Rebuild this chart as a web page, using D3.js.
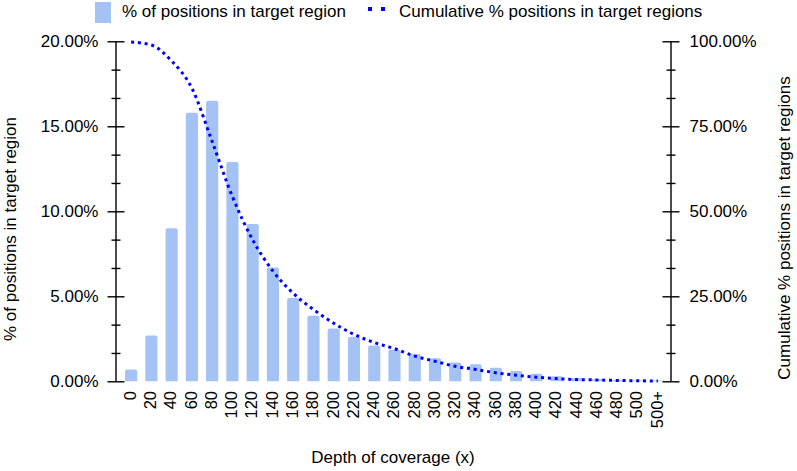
<!DOCTYPE html>
<html lang="en">
<head>
    <meta charset="UTF-8">
    <title>Depth of coverage</title>
    <script src="https://d3js.org/d3.v7.min.js"></script>
    <style>
        body { margin: 0; background: #fff; }
        svg { display: block; font-family: "Liberation Sans", Arial, sans-serif; }
        .axis path { display: none; }
        .axis line { stroke: #000; stroke-width: 1.4px; }
    </style>
</head>
<body>
    <svg></svg>
    <script>
        // categories along x (depth of coverage)
        const depths = ["0","20","40","60","80","100","120","140","160","180","200","220","240","260",
                        "280","300","320","340","360","380","400","420","440","460","480","500","500+"];
        // % of positions in target region (bars, left axis)
        const pctPositions = [0.7, 2.7, 9.0, 15.8, 16.5, 12.9, 9.25, 6.7, 4.9, 3.85, 3.1, 2.6, 2.1, 1.85,
                              1.6, 1.35, 1.1, 1.0, 0.8, 0.6, 0.45, 0.3, 0.2, 0.12, 0.08, 0.05, 0.04];
        // cumulative % positions (dotted line, right axis)
        const cumPositions = [99.8, 98.9, 94.2, 86.2, 70.5, 54.3, 41.6, 32.4, 25.9, 21.1, 17.1, 13.8, 11.4, 9.6,
                              7.4, 5.9, 4.4, 3.5, 2.5, 1.8, 1.2, 0.8, 0.5, 0.4, 0.25, 0.15, 0.1];
        const leftTicks = [0, 5, 10, 15, 20];
        const rightTicks = [0, 25, 50, 75, 100];

        const width = 797, height = 471;
        const svg = d3.select("svg").attr("width", width).attr("height", height);

        const xLeft = 116, xRight = 671, yTop = 41.3, yBottom = 381.3;

        const x = d3.scaleBand().domain(depths).range([121, 668]).paddingInner(0.4).paddingOuter(0.2);
        const yL = d3.scaleLinear().domain([0, 20]).range([yBottom, yTop]);
        const yR = d3.scaleLinear().domain([0, 100]).range([yBottom, yTop]);

        // bars
        svg.append("g").selectAll("path")
            .data(pctPositions)
            .join("path")
            .attr("fill", "#a4c2f4")
            .attr("d", (d, i) => {
                const x0 = x(depths[i]), w = x.bandwidth(), y0 = yL(d), y1 = yL(0);
                const r = Math.min(2, (y1 - y0) / 2);
                return `M${x0},${y1}V${y0 + r}Q${x0},${y0} ${x0 + r},${y0}H${x0 + w - r}Q${x0 + w},${y0} ${x0 + w},${y0 + r}V${y1}Z`;
            });

        // cumulative dotted line
        const line = d3.line()
            .x((d, i) => x(depths[i]) + x.bandwidth() / 2)
            .y(d => yR(d))
            .curve(d3.curveMonotoneX);
        svg.append("path")
            .datum(cumPositions)
            .attr("fill", "none")
            .attr("stroke", "#0000ff")
            .attr("stroke-width", 3)
            .attr("stroke-dasharray", "3,3.8")
            .attr("d", line);

        // minor ticks (thirds between major ticks)
        const minorL = d3.range(0, 20.001, 5 / 3).filter((v, i) => i % 3 !== 0);
        const minorR = d3.range(0, 100.001, 25 / 3).filter((v, i) => i % 3 !== 0);

        function crossAxis(g, half) {
            g.selectAll(".tick line").attr("x1", -half).attr("x2", half);
        }

        // left axis
        const gL = svg.append("g").attr("class", "axis").attr("transform", `translate(${xLeft},0)`)
            .call(d3.axisLeft(yL).tickValues(leftTicks).tickSize(8.5).tickPadding(9)
                .tickFormat(d => d.toFixed(2) + "%"))
            .call(g => crossAxis(g, 8.5));
        gL.selectAll("text").attr("font-size", 17).attr("fill", "#000");
        svg.append("g").attr("class", "axis").attr("transform", `translate(${xLeft},0)`)
            .call(d3.axisLeft(yL).tickValues(minorL).tickSize(4.5).tickFormat(""))
            .call(g => crossAxis(g, 4.5));
        svg.append("line").attr("x1", xLeft).attr("x2", xLeft).attr("y1", yTop).attr("y2", yBottom)
            .attr("stroke", "#000").attr("stroke-width", 1.4);

        // right axis
        const gR = svg.append("g").attr("class", "axis").attr("transform", `translate(${xRight},0)`)
            .call(d3.axisRight(yR).tickValues(rightTicks).tickSize(8.5).tickPadding(10)
                .tickFormat(d => d.toFixed(2) + "%"))
            .call(g => crossAxis(g, 8.5));
        gR.selectAll("text").attr("font-size", 17).attr("fill", "#000");
        svg.append("g").attr("class", "axis").attr("transform", `translate(${xRight},0)`)
            .call(d3.axisRight(yR).tickValues(minorR).tickSize(4.5).tickFormat(""))
            .call(g => crossAxis(g, 4.5));
        svg.append("line").attr("x1", xRight).attr("x2", xRight).attr("y1", yTop).attr("y2", yBottom)
            .attr("stroke", "#000").attr("stroke-width", 1.4);

        // x category labels (rotated)
        svg.append("g").selectAll("text")
            .data(depths)
            .join("text")
            .attr("transform", d => `translate(${x(d) + x.bandwidth() / 2 - 1},391) rotate(-90)`)
            .attr("text-anchor", "end")
            .attr("dy", "0.35em")
            .attr("font-size", 16.5)
            .text(d => d);

        // axis titles
        svg.append("text")
            .attr("x", 393).attr("y", 463)
            .attr("text-anchor", "middle").attr("font-size", 17)
            .text("Depth of coverage (x)");
        svg.append("text")
            .attr("transform", "translate(10,229) rotate(-90)")
            .attr("text-anchor", "middle").attr("dy", "0.35em").attr("font-size", 17)
            .text("% of positions in target region");
        svg.append("text")
            .attr("transform", "translate(784,228) rotate(-90)")
            .attr("text-anchor", "middle").attr("dy", "0.35em").attr("font-size", 17)
            .text("Cumulative % positions in target regions");

        // legend
        const legend = svg.append("g");
        legend.append("rect").attr("x", 95).attr("y", 2).attr("width", 16).attr("height", 21)
            .attr("fill", "#a4c2f4");
        legend.append("text").attr("x", 122).attr("y", 17).attr("font-size", 17)
            .text("% of positions in target region");
        legend.append("line").attr("x1", 368).attr("x2", 386).attr("y1", 9).attr("y2", 9)
            .attr("stroke", "#0000ff").attr("stroke-width", 4).attr("stroke-dasharray", "4,9");
        legend.append("text").attr("x", 399).attr("y", 17).attr("font-size", 17)
            .text("Cumulative % positions in target regions");
    </script>
</body>
</html>
